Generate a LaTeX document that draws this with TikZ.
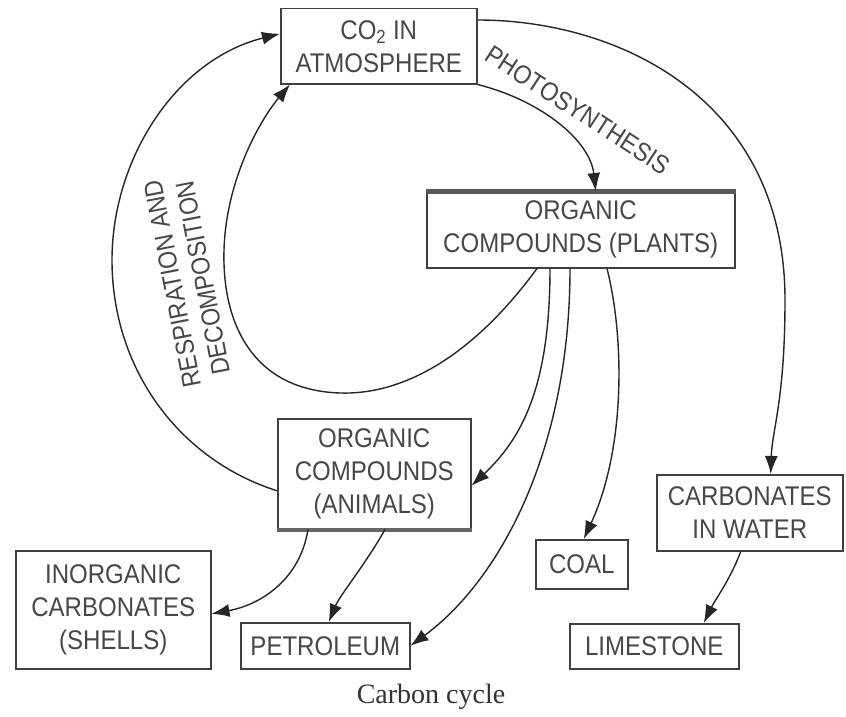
\documentclass[tikz,border=0pt]{standalone}
\usepackage{fontspec}
\setmainfont{Liberation Sans}
\newfontfamily\dfont{Liberation Sans}[FakeStretch=0.89]
\newfontfamily\capfont{Liberation Serif}
\usetikzlibrary{arrows.meta}
\begin{document}
\begin{tikzpicture}[x=1pt,y=-1pt,
  box/.style={draw=black!75, line width=1.5pt, text=black!72,
    font=\dfont\fontsize{27}{33}\selectfont, align=center,
    inner sep=0pt, anchor=north west},
  lbl/.style={text=black!72, font=\dfont\fontsize{26}{31}\selectfont,
    align=center, inner sep=0pt},
  conn/.style={draw=black!85, line width=1.4pt,
    -{Latex[length=18pt,width=13pt]}}
]
\useasboundingbox[fill=white] (0,0) rectangle (846,717);

% boxes
\node[box, minimum width=196pt, minimum height=75pt] (co2) at (280,8)
  {CO\textsubscript{2} IN\\ATMOSPHERE};
\node[box, minimum width=308pt, minimum height=76pt] (plants) at (426,191)
  {ORGANIC\\COMPOUNDS (PLANTS)};
\node[box, minimum width=193pt, minimum height=110pt] (animals) at (277,418)
  {ORGANIC\\COMPOUNDS\\(ANIMALS)};
\node[box, minimum width=186pt, minimum height=76pt] (carb) at (656,474)
  {CARBONATES\\IN WATER};
\node[box, minimum width=92pt, minimum height=49pt] (coal) at (535,539)
  {COAL};
\node[box, minimum width=195pt, minimum height=118pt] (inorg) at (15,550)
  {INORGANIC\\CARBONATES\\(SHELLS)};
\node[box, minimum width=169pt, minimum height=46pt] (petrol) at (240,622)
  {PETROLEUM};
\node[box, minimum width=169pt, minimum height=45pt] (lime) at (569,623)
  {LIMESTONE};

% heavy edges
\draw[line width=5pt, black!65] (plants.north west) -- (plants.north east);
\draw[line width=4pt, black!60] (animals.south west) -- (animals.south east);

% labels
\node[lbl, rotate=101] (resp) at (188,281) {RESPIRATION AND\\DECOMPOSITION};
\node[lbl, rotate=-33] (photo) at (578,110) {PHOTOSYNTHESIS};
\node[text=black!80, inner sep=0pt, font=\capfont\fontsize{28}{30}\selectfont]
  (cap) at (431,697) {Carbon cycle};

% connectors
\draw[conn] ([yshift=-17pt]animals.west)
  .. controls (180,460) and (112,370) .. (112,260)
  .. controls (112,160) and (175,60) .. ([yshift=12.5pt]co2.west);
\draw[conn] ([xshift=111pt]plants.south west)
  .. controls (470,360) and (400,395) .. (340,393)
  .. controls (250,390) and (222,320) .. (224,250)
  .. controls (226,180) and (260,120) .. ([xshift=10pt]co2.south west);
\draw[conn] (co2.south east)
  .. controls (540,100) and (590,140) .. ([xshift=15pt]plants.north);
\draw[conn] ([yshift=-12pt]co2.north east)
  .. controls (620,20) and (785,100) .. (785,300)
  .. controls (785,400) and (772,430) .. ([xshift=21pt]carb.north);
\draw[conn] ([xshift=124pt]plants.south west)
  .. controls (550,390) and (520,440) .. ([yshift=-12pt]animals.east);
\draw[conn] ([xshift=144pt]plants.south west)
  .. controls (570,450) and (500,580) .. (petrol.east);
\draw[conn] ([xshift=181pt]plants.south west)
  .. controls (625,340) and (625,450) .. ([xshift=2pt]coal.north);
\draw[conn] ([xshift=31pt]animals.south west)
  .. controls (300,580) and (260,605) .. ([yshift=-4pt]inorg.east);
\draw[conn] ([xshift=108pt]animals.south west)
  .. controls (365,565) and (340,595) .. ([xshift=3.5pt]petrol.north);
\draw[conn] ([xshift=-9pt]carb.south)
  .. controls (730,580) and (715,600) .. ([xshift=49.5pt]lime.north);
\end{tikzpicture}
\end{document}
